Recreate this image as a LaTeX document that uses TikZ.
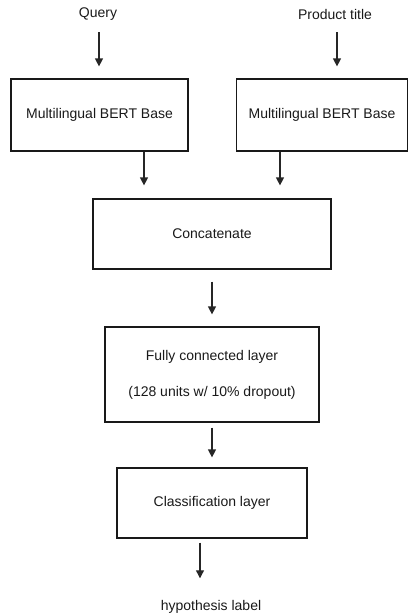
\documentclass[tikz,border=0pt]{standalone}
\usepackage{fontspec}
\setmainfont{Liberation Sans}
\usetikzlibrary{arrows.meta,calc}
\begin{document}
\begin{tikzpicture}[x=1pt,y=-1pt,
  every node/.style={font=\fontsize{14}{16}\selectfont, text=black!90},
  blk/.style={draw=black!90, line width=1.2pt, inner sep=0pt, align=center},
  arr/.style={draw=black!85, line width=1.2pt, -{Triangle[width=8pt,length=8pt]}},
  lbl/.style={inner sep=0pt}]
\useasboundingbox (0,0) rectangle (409,616);
% inputs
\node[lbl] (q) at (98,14) {Query};
\node[lbl] (p) at (335,14) {Product title};
% boxes
\node[blk, minimum width=177pt, minimum height=72pt] (b1) at (99.5,115) {Multilingual BERT Base};
\node[blk, minimum width=171pt, minimum height=72pt] (b2) at (322,115) {Multilingual BERT Base};
\node[blk, minimum width=238pt, minimum height=70pt] (cc) at (212,234) {Concatenate};
\node[blk, minimum width=214pt, minimum height=95pt] (fc) at (212,374.5) {};
\node[lbl] (fc1) at (212,357) {Fully connected layer};
\node[lbl] (fc2) at (212,393) {(128 units w/ 10\% dropout)};
\node[blk, minimum width=190pt, minimum height=70pt] (cl) at (212,503) {Classification layer};
\node[lbl] (h) at (211,607) {hypothesis label};
% connectors
\draw[arr] ($(q.center)+(1,18)$) -- ($(b1.north -| q.center)+(1,-12)$);
\draw[arr] ($(p.center)+(2,18)$) -- ($(b2.north -| p.center)+(2,-12)$);
\draw[arr] (b1.south -| 144,0) -- ($(cc.north -| 144,0)+(0,-13)$);
\draw[arr] (b2.south -| 280,0) -- ($(cc.north -| 280,0)+(0,-13)$);
\draw[arr] ($(cc.south)+(0,12)$) -- ($(fc.north)+(0,-12)$);
\draw[arr] ($(fc.south)+(0,5)$) -- ($(cl.north)+(0,-10)$);
\draw[arr] ($(cl.south -| 200,0)+(0,4)$) -- ($(h.north -| 200,0)+(0,-22)$);
\end{tikzpicture}
\end{document}
